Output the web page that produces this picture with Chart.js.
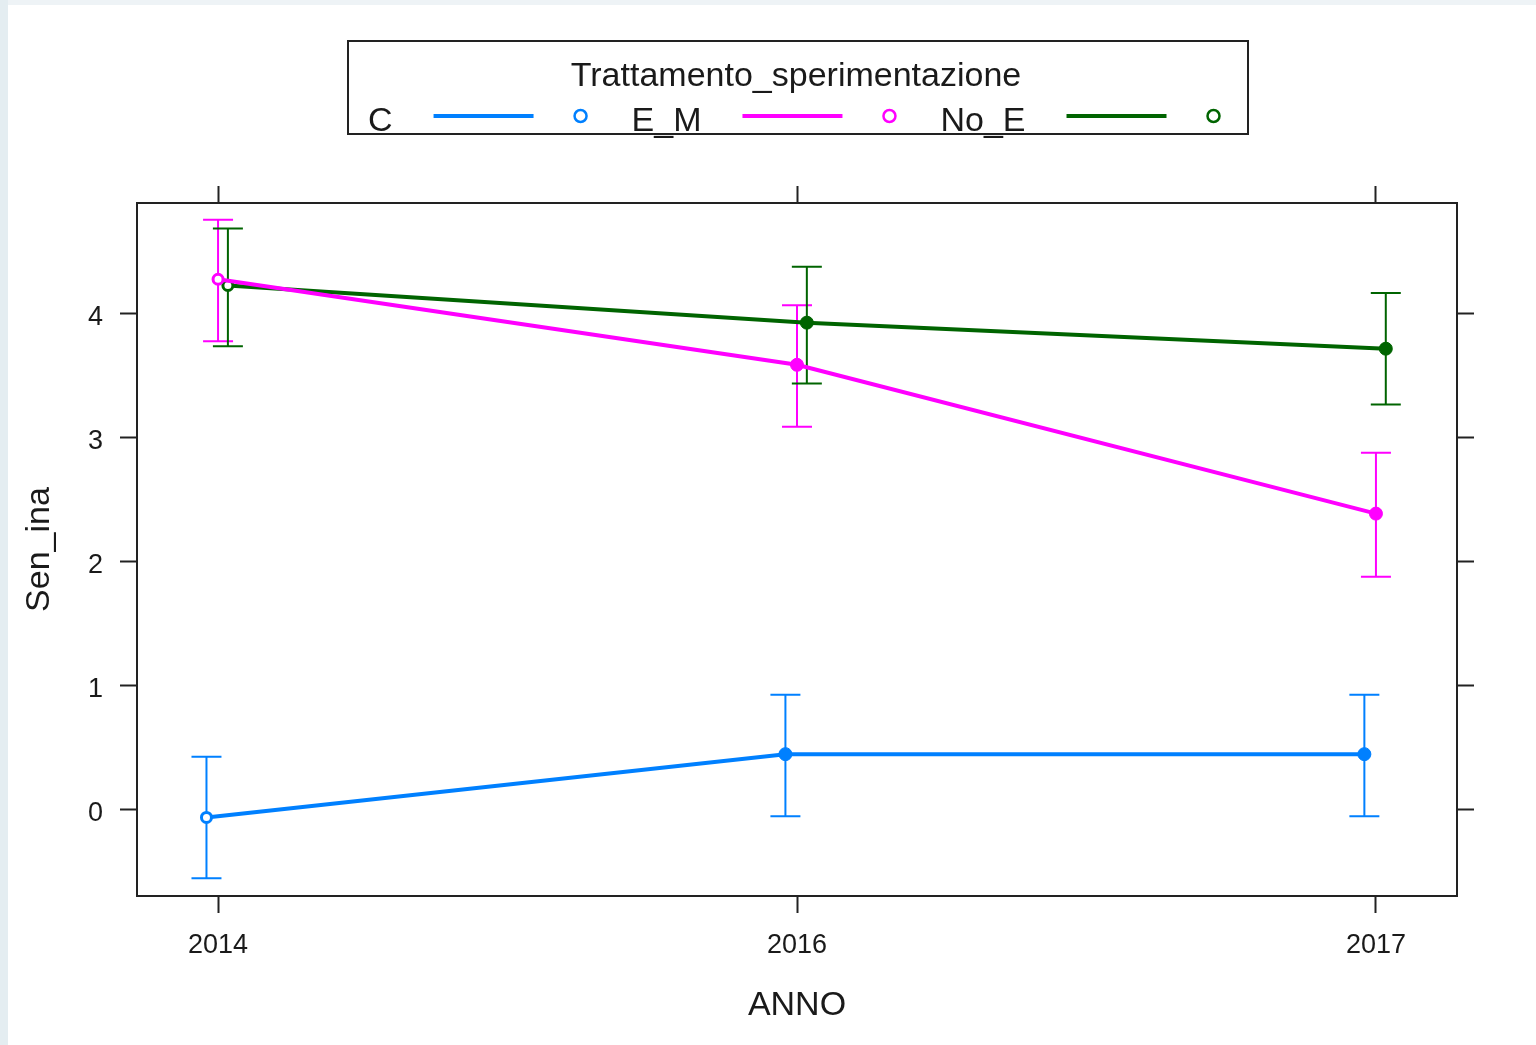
<!DOCTYPE html>
<html>
<head>
<meta charset="utf-8">
<title>Sen_ina per ANNO</title>
<script src="https://cdn.jsdelivr.net/npm/chart.js@4.4.1/dist/chart.umd.min.js"></script>
<style>
    html, body { margin: 0; padding: 0; background: #eef3f6; }
    canvas { display: block; }
</style>
</head>
<body>
<canvas id="grafico" width="1536" height="1045"></canvas>
<script>
// Dati
const anni = ['2014', '2016', '2017'];
const gruppi = ['C', 'E_M', 'No_E'];
const colori = ['#0080ff', '#ff00ff', '#006400'];
const scostamenti = [-0.02, 0, 0.017];   // spostamento orizzontale di ogni gruppo
const tickY = [0, 1, 2, 3, 4];

const mediaC = [-0.06, 0.45, 0.45];
const bassoC = [-0.55, -0.05, -0.05];
const altoC = [0.43, 0.93, 0.93];

const mediaEM = [4.28, 3.59, 2.39];
const bassoEM = [3.78, 3.09, 1.88];
const altoEM = [4.76, 4.07, 2.88];

const mediaNoE = [4.23, 3.93, 3.72];
const bassoNoE = [3.74, 3.44, 3.27];
const altoNoE = [4.69, 4.38, 4.17];

const FONT = "'Liberation Sans', Arial, sans-serif";
const NERO = '#1a1a1a';

// costruisce una serie con le sue barre d'errore
function creaSerie(i, medie, basso, alto) {
    return {
        label: gruppi[i],
        data: medie.map(function (v, k) { return { x: k + scostamenti[i], y: v }; }),
        errBasso: basso,
        errAlto: alto,
        showLine: true,
        borderColor: colori[i],
        borderWidth: 4,
        pointRadius: [5, 6.5, 6.5],
        pointBorderWidth: [3, 1, 1],
        pointBackgroundColor: ['#ffffff', colori[i], colori[i]],
        pointBorderColor: colori[i]
    };
}

// sfondo della pagina
const sfondo = {
    id: 'sfondo',
    beforeDraw: function (chart) {
        const ctx = chart.ctx;
        ctx.save();
        ctx.fillStyle = '#eef3f6';
        ctx.fillRect(0, 0, chart.width, chart.height);
        ctx.fillStyle = '#e4edf1';
        ctx.fillRect(0, 0, 8, chart.height);
        ctx.fillStyle = '#ffffff';
        ctx.fillRect(8, 5, chart.width - 8, chart.height - 5);
        ctx.restore();
    }
};

// barre d'errore con i "cappucci"
const barreErrore = {
    id: 'barreErrore',
    beforeDatasetsDraw: function (chart) {
        const ctx = chart.ctx;
        const sx = chart.scales.x, sy = chart.scales.y;
        ctx.save();
        chart.data.datasets.forEach(function (ds) {
            ctx.strokeStyle = ds.borderColor;
            ctx.lineWidth = 2;
            ds.data.forEach(function (p, k) {
                const px = sx.getPixelForValue(p.x);
                const y1 = sy.getPixelForValue(ds.errBasso[k]);
                const y2 = sy.getPixelForValue(ds.errAlto[k]);
                ctx.beginPath();
                ctx.moveTo(px, y1); ctx.lineTo(px, y2);
                ctx.moveTo(px - 15, y1); ctx.lineTo(px + 15, y1);
                ctx.moveTo(px - 15, y2); ctx.lineTo(px + 15, y2);
                ctx.stroke();
            });
        });
        ctx.restore();
    }
};

// legenda in alto, stile lattice
const legendaLattice = {
    id: 'legendaLattice',
    afterDraw: function (chart) {
        const ctx = chart.ctx;
        ctx.save();
        ctx.strokeStyle = '#222';
        ctx.lineWidth = 2;
        ctx.strokeRect(348, 41, 900, 93);

        ctx.fillStyle = NERO;
        ctx.font = '34px ' + FONT;
        ctx.textAlign = 'center';
        ctx.textBaseline = 'alphabetic';
        ctx.fillText('Trattamento_sperimentazione', 796, 86);

        let x = 368;
        chart.data.datasets.forEach(function (ds) {
            ctx.textAlign = 'left';
            ctx.fillStyle = NERO;
            ctx.fillText(ds.label, x, 131);
            x += ctx.measureText(ds.label).width + 41;

            ctx.strokeStyle = ds.borderColor;
            ctx.lineWidth = 4;
            ctx.beginPath();
            ctx.moveTo(x, 116); ctx.lineTo(x + 100, 116);
            ctx.stroke();
            x += 147;

            ctx.lineWidth = 2.5;
            ctx.beginPath();
            ctx.arc(x, 116, 6, 0, Math.PI * 2);
            ctx.stroke();
            x += 51;
        });
        ctx.restore();
    }
};

const xMin = -0.14, xMax = 2.14;
const yMin = -0.694, yMax = 4.895;

function tickAnni(scale) {
    scale.ticks = anni.map(function (a, i) { return { value: i }; });
}

const griglia = { drawOnChartArea: false, drawTicks: true, tickLength: 17, tickWidth: 2, tickColor: '#222' };
const bordo = { display: true, color: '#222', width: 2 };

new Chart(document.getElementById('grafico'), {
    type: 'scatter',
    data: {
        datasets: [
            creaSerie(0, mediaC, bassoC, altoC),
            creaSerie(1, mediaEM, bassoEM, altoEM),
            creaSerie(2, mediaNoE, bassoNoE, altoNoE)
        ]
    },
    options: {
        responsive: false,
        animation: false,
        layout: { padding: 0 },
        plugins: {
            legend: { display: false },
            tooltip: { enabled: false }
        },
        scales: {
            x: {
                type: 'linear', position: 'bottom', min: xMin, max: xMax,
                afterBuildTicks: tickAnni,
                ticks: {
                    callback: function (v) { return anni[v]; },
                    font: { family: FONT, size: 27 }, color: NERO, padding: 16, maxRotation: 0
                },
                grid: griglia, border: bordo,
                title: { display: true, text: 'ANNO', color: NERO, font: { family: FONT, size: 34 }, padding: { top: 0, bottom: 19 } },
                afterFit: function (s) { s.height = 149; }
            },
            x2: {
                type: 'linear', position: 'top', min: xMin, max: xMax,
                afterBuildTicks: tickAnni,
                ticks: { display: false },
                grid: griglia, border: bordo,
                afterFit: function (s) { s.height = 203; }
            },
            y: {
                type: 'linear', position: 'left', min: yMin, max: yMax,
                afterBuildTicks: function (s) { s.ticks = tickY.map(function (v) { return { value: v }; }); },
                ticks: { font: { family: FONT, size: 27 }, color: NERO, padding: 17, labelOffset: 4 },
                grid: griglia, border: bordo,
                title: { display: true, text: 'Sen_ina', color: NERO, font: { family: FONT, size: 34 }, padding: { top: 19, bottom: 0 } },
                afterFit: function (s) { s.width = 137; }
            },
            y2: {
                type: 'linear', position: 'right', min: yMin, max: yMax,
                afterBuildTicks: function (s) { s.ticks = tickY.map(function (v) { return { value: v }; }); },
                ticks: { display: false },
                grid: griglia, border: bordo,
                afterFit: function (s) { s.width = 79; }
            }
        }
    },
    plugins: [sfondo, barreErrore, legendaLattice]
});
</script>
</body>
</html>
